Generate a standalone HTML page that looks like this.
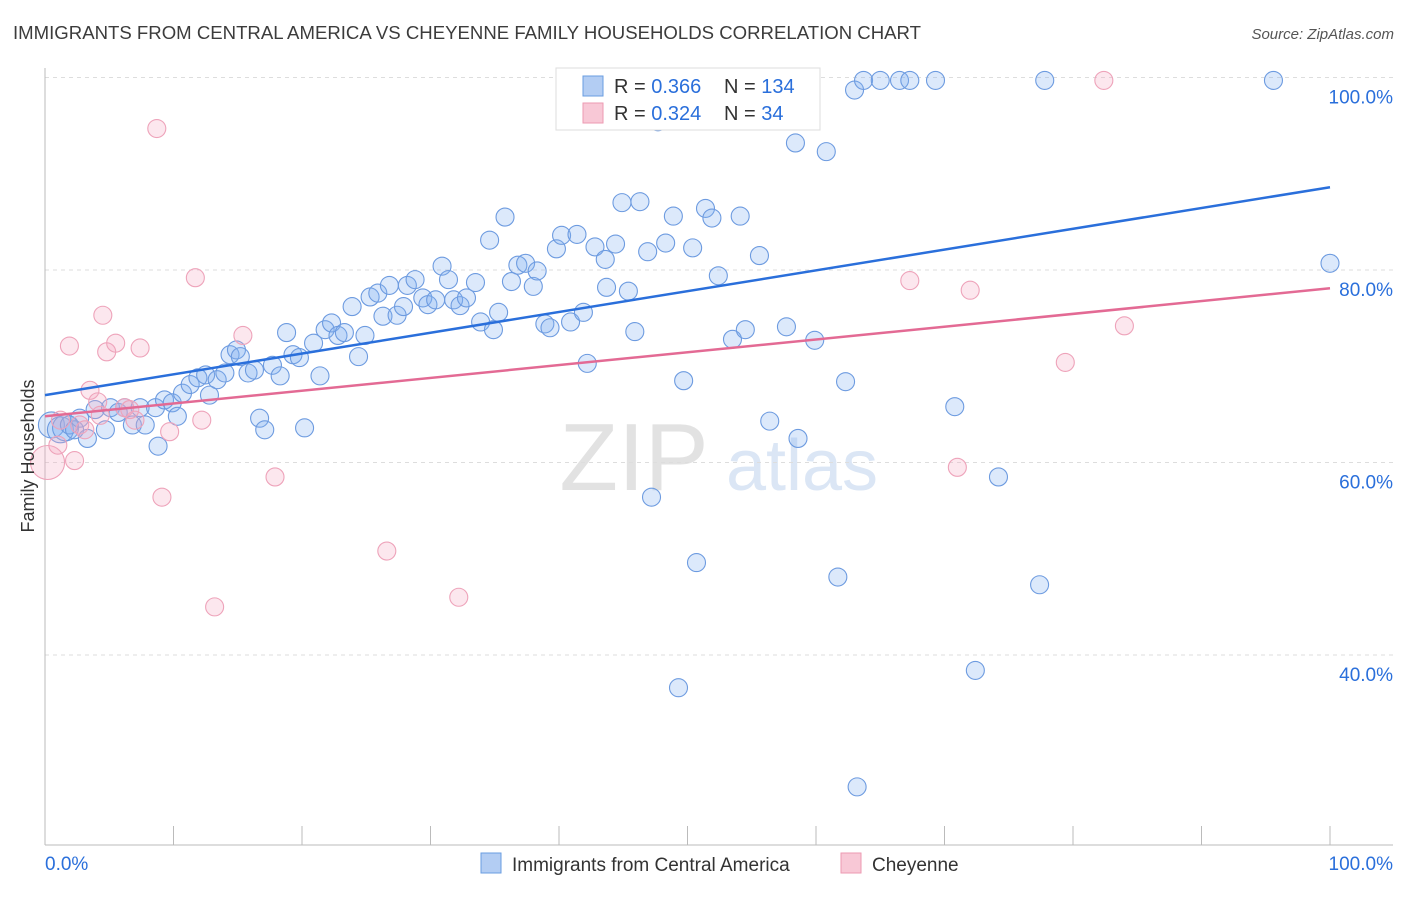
<!DOCTYPE html>
<html><head><meta charset="utf-8"><style>
body{margin:0;background:#fff;font-family:"Liberation Sans",sans-serif;}
svg text{font-family:"Liberation Sans",sans-serif;}
</style></head><body>
<svg id="chart" width="1406" height="892" xmlns="http://www.w3.org/2000/svg">
<text x="13" y="39" font-size="18.5" fill="#3c3c3c" textLength="908" lengthAdjust="spacingAndGlyphs">IMMIGRANTS FROM CENTRAL AMERICA VS CHEYENNE FAMILY HOUSEHOLDS CORRELATION CHART</text>
<text x="1394" y="39" font-size="15" fill="#555" text-anchor="end" font-style="italic">Source: ZipAtlas.com</text>
<g>
<text x="634" y="490" font-size="96" fill="#e2e2e2" text-anchor="middle" font-family="Liberation Serif">ZIP</text>
<text x="802" y="490" font-size="72" fill="#dbe6f5" text-anchor="middle">atlas</text></g>
<g id="grid"></g><g id="axes"></g><g id="pts"></g><g id="lines"></g>
<text transform="translate(34,456) rotate(-90)" font-size="18" fill="#333" text-anchor="middle">Family Households</text>
<g>
<rect x="556" y="68" width="264" height="62" fill="#fff" stroke="#ddd"/>
<rect x="583" y="76" width="20" height="20" fill="#b3cdf3" stroke="#6a9de0"/>
<rect x="583" y="103" width="20" height="20" fill="#f8c8d6" stroke="#ec9ab2"/>
<text x="614" y="93" font-size="20" fill="#333">R = <tspan fill="#2a6fdb">0.366</tspan></text>
<text x="724" y="93" font-size="20" fill="#333">N = <tspan fill="#2a6fdb">134</tspan></text>
<text x="614" y="120" font-size="20" fill="#333">R = <tspan fill="#2a6fdb">0.324</tspan></text>
<text x="724" y="120" font-size="20" fill="#333">N = <tspan fill="#2a6fdb">  34</tspan></text>
</g>
<g>
<rect x="481" y="853" width="20" height="20" fill="#b3cdf3" stroke="#6a9de0"/>
<text x="512" y="871" font-size="19" fill="#333">Immigrants from Central America</text>
<rect x="841" y="853" width="20" height="20" fill="#f8c8d6" stroke="#ec9ab2"/>
<text x="872" y="871" font-size="19" fill="#333">Cheyenne</text>
</g>
</svg>
<script>
const blueX=[0.5,1.2,1.6,1.9,2.3,3.3,2.7,3.9,4.7,5.1,5.7,6.2,6.8,7.4,7.8,8.6,8.8,9.3,9.9,10.3,10.7,11.3,11.9,12.5,12.8,13.4,14.0,14.4,14.9,15.2,15.8,16.3,16.7,17.1,17.7,18.3,18.8,19.3,19.8,20.2,20.9,21.4,21.8,22.3,22.8,23.3,23.9,24.4,24.9,25.3,25.9,26.3,26.8,27.4,27.9,28.2,28.8,29.4,29.8,30.4,30.9,31.4,31.8,32.3,32.8,33.5,33.9,34.6,34.9,35.3,35.8,36.3,36.8,37.4,38.0,38.3,38.9,39.3,39.8,40.2,40.9,41.4,41.9,42.2,42.8,43.6,43.7,44.4,44.9,45.4,45.9,46.3,46.9,47.2,47.7,48.3,48.9,49.7,50.4,50.7,49.3,51.4,51.9,52.4,53.5,54.1,54.5,54.6,55.5,55.6,56.4,57.7,58.4,58.6,59.9,60.8,61.7,62.3,63.0,63.7,65.0,66.5,67.3,69.3,70.8,72.4,74.2,77.4,77.8,63.2,95.6,100];
const blueY=[63.9,63.4,63.6,63.9,63.4,62.5,64.6,65.5,63.4,65.7,65.2,65.7,63.9,65.7,63.9,65.7,61.7,66.5,66.2,64.8,67.2,68.1,68.8,69.1,67.0,68.6,69.3,71.2,71.7,71.0,69.3,69.6,64.6,63.4,70.1,69.0,73.5,71.2,70.9,63.6,72.4,69.0,73.8,74.5,73.2,73.5,76.2,71.0,73.2,77.2,77.6,75.2,78.4,75.3,76.2,78.4,79.0,77.1,76.4,76.9,80.4,79.0,76.9,76.3,77.1,78.7,74.6,83.1,73.8,75.6,85.5,78.8,80.5,80.7,78.3,79.9,74.4,74.0,82.2,83.6,74.6,83.7,75.6,70.3,82.4,81.1,78.2,82.7,87.0,77.8,73.6,87.1,81.9,56.4,95.4,82.8,85.6,68.5,82.3,49.6,36.6,86.4,85.4,79.4,72.8,85.6,73.8,99.7,99.7,81.5,64.3,74.1,93.2,62.5,72.7,92.3,48.1,68.4,98.7,99.7,99.7,99.7,99.7,99.7,65.8,38.4,58.5,47.3,99.7,26.3,99.7,80.7];
const pinkX=[0.2,1.0,1.9,2.3,2.7,3.5,4.1,4.5,4.8,5.5,6.2,7.0,7.4,8.7,9.1,9.7,11.7,12.2,13.2,15.4,17.9,26.6,32.2,67.3,71.0,72.0,79.4,82.4,84.0,1.2,3.1,6.6,4.3];
const pinkY=[60.0,61.8,72.1,60.2,63.9,67.5,66.3,75.3,71.5,72.4,65.7,64.4,71.9,94.7,56.4,63.2,79.2,64.4,45.0,73.2,58.5,50.8,46.0,78.9,59.5,77.9,70.4,99.7,74.2,64.4,63.4,65.5,64.9];
const blueLine=[67.0,88.6];
const pinkLine=[64.8,78.1];
const yTicks=[40,60,80,100];
const xTickLabels=["0.0%","100.0%"];
const X=v=>45+v*12.85, Y=v=>77.5+(100-v)*9.625;
const NS="http://www.w3.org/2000/svg";
function mk(tag,at,parent){const e=document.createElementNS(NS,tag);for(const k in at)e.setAttribute(k,at[k]);document.getElementById(parent).appendChild(e);return e;}
yTicks.forEach(t=>{
 const g=mk('line',{x1:45,x2:1393,y1:Y(t),y2:Y(t),stroke:'#ddd','stroke-dasharray':'4,4'},'grid');
 
 
 const l=mk('text',{x:1393,y:Y(t)+26,'font-size':19,fill:'#2a6fdb','text-anchor':'end'},'grid');
 l.textContent=t.toFixed(1)+'%';
 
 
});
mk('line',{x1:45,x2:45,y1:68,y2:845,stroke:'#bbb'},'axes');
mk('line',{x1:45,x2:1393,y1:845,y2:845,stroke:'#bbb'},'axes');
for(let i=0;i<=10;i++){const t=mk('line',{x1:X(i*10),x2:X(i*10),y1:826,y2:845,stroke:'#bbb'},'axes');
 
 }
[[0,'start',45],[100,'end',1393]].forEach((d,i)=>{const t=mk('text',{x:d[2],y:870,'font-size':19,fill:'#2a6fdb','text-anchor':d[1]},'axes');t.textContent=xTickLabels[i];
 
 });
blueX.forEach((x,i)=>{const c=mk('circle',{cx:X(x),cy:Y(blueY[i]),r:i<3?13:9,fill:'rgba(130,175,240,0.28)',stroke:'#6d9be0','stroke-width':1.1},'pts');
 
 });
pinkX.forEach((x,i)=>{const c=mk('circle',{cx:X(x),cy:Y(pinkY[i]),r:i==0?17:9,fill:'rgba(245,170,195,0.28)',stroke:'#eea3ba','stroke-width':1.1},'pts');
 
 });
const bl=mk('line',{x1:X(0),x2:X(100),y1:Y(blueLine[0]),y2:Y(blueLine[1]),stroke:'#2a6fdb','stroke-width':2.5},'lines');


const pl=mk('line',{x1:X(0),x2:X(100),y1:Y(pinkLine[0]),y2:Y(pinkLine[1]),stroke:'#e36a94','stroke-width':2.5},'lines');


</script>
</body></html>
